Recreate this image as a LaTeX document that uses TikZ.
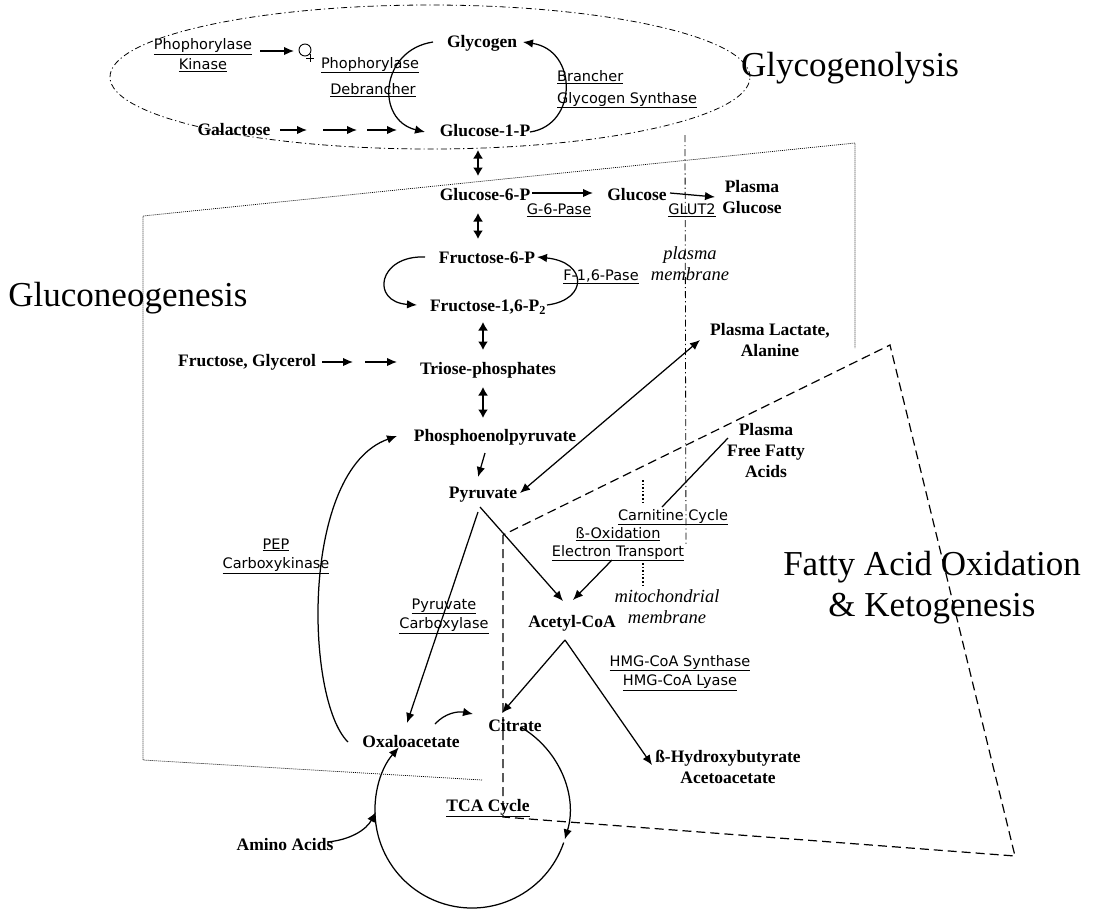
\documentclass[tikz,border=0pt]{standalone}
\usepackage{fontspec}
\setmainfont{Liberation Serif}
\newfontfamily\enzymefont{DejaVu Sans}
\usetikzlibrary{arrows.meta}
\newcommand\enzul[1]{\underline{#1}}
\begin{document}
\begin{tikzpicture}[x=1pt,y=1pt,
  met/.style={font=\bfseries\fontsize{17.5}{21}\selectfont, inner sep=0pt, align=center},
  enz/.style={font=\enzymefont\fontsize{14.5}{19.5}\selectfont, inner sep=0pt, align=center},
  memb/.style={font=\itshape\fontsize{18.5}{21}\selectfont, inner sep=0pt, align=center},
  region/.style={font=\fontsize{35}{41}\selectfont, inner sep=0pt, align=center},
  flow/.style={line width=1.25pt, -{Latex[length=10pt,width=8.5pt]}},
  link/.style={line width=1.25pt, {Latex[length=10pt,width=8.5pt]}-{Latex[length=10pt,width=8.5pt]}},
  twoway/.style={line width=1.5pt, {Latex[length=8.5pt,width=10pt]}-{Latex[length=8.5pt,width=10pt]}},
  plain/.style={line width=1.25pt},
  dashdotted/.style={line width=0.8pt, dash pattern=on 6pt off 3pt on 1.2pt off 3pt},
  finedots/.style={line width=0.7pt, dash pattern=on 1pt off 1pt},
  longdash/.style={line width=1.2pt, dash pattern=on 9pt off 5pt},
  mitodots/.style={line width=1.8pt, dash pattern=on 1.6pt off 2pt}
]
\useasboundingbox (0,0) rectangle (1093,-911);

% ---- compartment outlines ----
\draw[dashdotted] (430,-77) ellipse [x radius=320, y radius=72];
\draw[finedots] (482,-780) -- (143,-760) -- (143,-216) -- (855,-143) -- (855,-348);
\draw[longdash] (503,-535) -- (503,-817) -- (1015,-856) -- (890,-345) -- cycle;

% ---- membranes ----
\draw[dashdotted, dash pattern=on 7pt off 3pt on 1.2pt off 3pt] (685,-135) -- (686,-545);
\draw[mitodots] (643,-480) -- (643,-503);
\draw[mitodots] (643,-563) -- (643,-587);

% ---- region titles ----
\node[region] (glycogenolysis) at (850,-68) {Glycogenolysis};
\node[region] (gluconeo) at (128,-298) {Gluconeogenesis};
\node[region] (fao) at (932,-588) {Fatty Acid Oxidation\\\& Ketogenesis};

% ---- glycogen metabolism ----
\node[enz, font=\enzymefont\fontsize{14.5}{20}\selectfont] (pk) at (203,-55) {\enzul{Phophorylase}\\\enzul{Kinase}};
\node[circle, draw, line width=0.9pt, minimum size=12pt, inner sep=0pt] (act) at (305,-50) {};
\node[enz] (phos) at (370,-65) {\enzul{Phophorylase}};
\node[enz] (debr) at (373,-90) {\enzul{Debrancher}};
\node[met] (glycogen) at (482,-43) {Glycogen};
\node[met] (g1p) at (485,-131) {Glucose-1-P};
\node[met] (galactose) at (234,-130) {Galactose};
\node[enz, anchor=west] (brancher) at (557,-77) {\enzul{Brancher}};
\node[enz, anchor=west] (gsyn) at (557,-100) {\enzul{Glycogen Synthase}};

% ---- upper glycolysis / gluconeogenesis ----
\node[met] (g6p) at (485,-195) {Glucose-6-P};
\node[enz] (g6pase) at (559,-210) {\enzul{G-6-Pase}};
\node[met] (glucose) at (637,-195) {Glucose};
\node[enz] (glut2) at (692,-210) {\enzul{GLUT2}};
\node[met] (plasmaglc) at (752,-197) {Plasma\\Glucose};
\node[met] (f6p) at (487,-258) {Fructose-6-P};
\node[met] (f16p) at (488,-307) {Fructose-1,6-P\textsubscript{2}};
\node[enz] (f16pase) at (601,-277) {\enzul{F-1,6-Pase}};
\node[memb] (plasmamem) at (690,-264) {plasma\\membrane};
\node[met] (frgly) at (247,-362) {Fructose, Glycerol};
\node[met] (triose) at (488,-370) {Triose-phosphates};
\node[met] (pep) at (495,-437) {Phosphoenolpyruvate};
\node[met] (pyruvate) at (483,-495) {Pyruvate};
\node[met] (lactate) at (770,-340) {Plasma Lactate,\\Alanine};
\node[met] (ffa) at (766,-451) {Plasma\\Free Fatty\\Acids};

% ---- mitochondrion ----
\node[enz] (carnitine) at (673,-517) {\enzul{Carnitine Cycle}};
\node[enz] (boxid) at (618,-534) {\enzul{ß-Oxidation}};
\node[enz] (etrans) at (618,-553) {\enzul{Electron Transport}};
\node[met] (acoa) at (572,-623) {Acetyl-CoA};
\node[memb] (mitomem) at (667,-607) {mitochondrial\\membrane};
\node[enz] (pepck) at (276,-556) {\enzul{PEP}\\\enzul{Carboxykinase}};
\node[enz] (pcarb) at (444,-616) {\enzul{Pyruvate}\\\enzul{Carboxylase}};
\node[enz] (hmg) at (680,-673) {\enzul{HMG-CoA Synthase}\\\enzul{HMG-CoA Lyase}};
\node[met] (bhb) at (728,-767) {ß-Hydroxybutyrate\\Acetoacetate};
\node[met] (oaa) at (411,-742) {Oxaloacetate};
\node[met] (citrate) at (515,-726) {Citrate};
\node[met] (tca) at (488,-808) {\underline{TCA Cycle}};
\node[met] (amino) at (285,-845) {Amino Acids};
\coordinate (tcacenter) at (472,-811);

% ---- connector end points ----
\coordinate (pk-out) at (260,-51);
\coordinate (act-in) at (294,-51);
\coordinate (glycogen-out) at (433,-42);
\coordinate (g1p-in) at (425,-132);
\coordinate (g1p-out) at (530,-132);
\coordinate (glycogen-in) at (523,-42);
\coordinate (g6p-out) at (532,-193);
\coordinate (glucose-in) at (593,-193);
\coordinate (glucose-out) at (670,-193);
\coordinate (plasmaglc-in) at (715,-197);
\coordinate (f6p-out) at (425,-257);
\coordinate (f16p-in) at (417,-305);
\coordinate (f16p-out) at (547,-305);
\coordinate (f6p-in) at (537,-257);
\coordinate (pep-out) at (485,-453);
\coordinate (pyr-in) at (478,-477);
\coordinate (lactate-end) at (700,-340);
\coordinate (pyr-end) at (520,-493);
\coordinate (ffa-out) at (728,-438);
\coordinate (carn-in) at (662,-507);
\coordinate (etrans-out) at (612,-560);
\coordinate (acoa-in1) at (573,-600);
\coordinate (pyr-out1) at (480,-507);
\coordinate (acoa-in2) at (563,-601);
\coordinate (pyr-out2) at (478,-512);
\coordinate (oaa-in) at (407,-723);
\coordinate (oaa-out1) at (348,-742);
\coordinate (pep-in) at (397,-436);
\coordinate (oaa-out2) at (435,-724);
\coordinate (citrate-in1) at (473,-714);
\coordinate (acoa-out) at (565,-640);
\coordinate (citrate-in2) at (502,-713);
\coordinate (bhb-in) at (652,-765);
\coordinate (amino-out) at (327,-842);
\coordinate (tca-in) at (376,-812);

% ---- connectors ----
\draw[flow] (pk-out) -- (act-in);
\draw[line width=0.9pt] ([xshift=1pt,yshift=-8pt]act.center) -- ([xshift=9pt,yshift=-8pt]act.center)
                        ([xshift=5pt,yshift=-4pt]act.center) -- ([xshift=5pt,yshift=-12pt]act.center);
\draw[flow] (glycogen-out) .. controls (380,-50) and (375,-120) .. (g1p-in);
\draw[flow] (g1p-out) .. controls (578,-125) and (578,-50) .. (glycogen-in);
\foreach \a/\b in {280/307, 323/357, 367/397}
  \draw[flow] (\a,-130) -- (\b,-130);
\foreach \a/\b in {322/353, 365/397}
  \draw[flow] (\a,-362) -- (\b,-362);

\draw[twoway] (478,-150) -- (478,-176);
\draw[twoway] (478,-213) -- (478,-239);
\draw[twoway] (483,-322) -- (483,-350);
\draw[twoway] (483,-387) -- (483,-418);

\draw[flow] (g6p-out) -- (glucose-in);
\draw[flow] (glucose-out) -- (plasmaglc-in);
\draw[flow] (f6p-out) .. controls (378,-255) and (370,-302) .. (f16p-in);
\draw[flow] (f16p-out) .. controls (588,-300) and (588,-262) .. (f6p-in);

\draw[flow] (pep-out) -- (pyr-in);
\draw[link] (lactate-end) -- (pyr-end);
\draw[plain] (ffa-out) -- (carn-in);
\draw[flow] (etrans-out) -- (acoa-in1);
\draw[flow] (pyr-out1) -- (acoa-in2);
\draw[flow] (pyr-out2) -- (oaa-in);
\draw[flow] (oaa-out1) .. controls (305,-700) and (300,-470) .. (pep-in);
\draw[flow] (oaa-out2) .. controls (445,-713) and (458,-711) .. (citrate-in1);
\draw[flow] (acoa-out) -- (citrate-in2);
\draw[flow] (acoa-out) -- (bhb-in);

% TCA cycle
\draw[flow] (tcacenter) ++(60:97) arc[start angle=60, end angle=-17, radius=97];
\draw[flow] (tcacenter) ++(-19:97) arc[start angle=-19, end angle=-221, radius=97];
\draw[flow] (amino-out) .. controls (350,-840) and (366,-830) .. (tca-in);
\end{tikzpicture}
\end{document}
